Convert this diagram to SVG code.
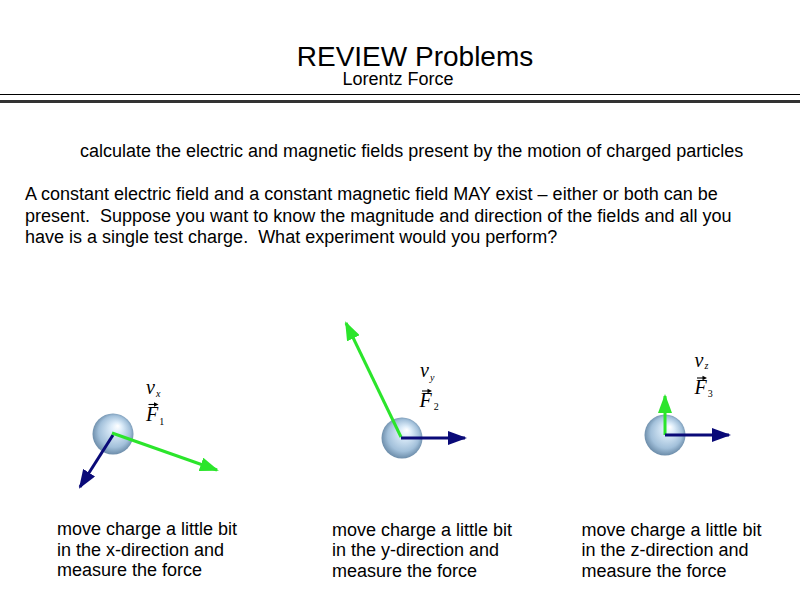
<svg xmlns="http://www.w3.org/2000/svg" width="800" height="600" viewBox="0 0 800 600">
<defs>
<style>
.sans{font-family:"Liberation Sans",Arial,sans-serif;fill:#000;white-space:pre}
.body{font-size:18px}
.title{font-size:28px}
.m{font-family:"Liberation Serif","Times New Roman",serif;font-style:italic;fill:#000}
.var{font-size:20px}
.sub{font-size:10px}
.num{font-style:normal}
.acc{stroke:#000;stroke-width:1.1;fill:none}
.acch{fill:#000}
.g{stroke:#2be52b;stroke-width:3;fill:none}
.b{stroke:#0a0a78;stroke-width:3;fill:none}
</style>
<radialGradient id="sph" cx="0.5" cy="0.5" r="0.55" fx="0.62" fy="0.3">
<stop offset="0" stop-color="#ffffff"/>
<stop offset="0.25" stop-color="#dcecf9"/>
<stop offset="0.7" stop-color="#a2c0da"/>
<stop offset="1" stop-color="#5d7e9c"/>
</radialGradient>
<marker id="ag" markerUnits="userSpaceOnUse" markerWidth="19" markerHeight="14" refX="17" refY="7" orient="auto">
<path d="M0,0 L19,7 L0,14 z" fill="#2be52b"/>
</marker>
<marker id="ab" markerUnits="userSpaceOnUse" markerWidth="19" markerHeight="14" refX="17" refY="7" orient="auto">
<path d="M0,0 L19,7 L0,14 z" fill="#0a0a78"/>
</marker>
</defs>
<rect width="800" height="600" fill="#fff"/>

<g id="header">
<text class="sans title" x="415" y="65.5" text-anchor="middle">REVIEW Problems</text>
<text class="sans body" x="398" y="84.5" text-anchor="middle">Lorentz Force</text>
<line x1="0" y1="94.5" x2="800" y2="94.5" stroke="#000" stroke-width="1.2"/>
<line x1="0" y1="101.5" x2="800" y2="101.5" stroke="#333" stroke-width="3.2"/>
</g>

<g id="intro">
<text class="sans body" x="80" y="157">calculate the electric and magnetic fields present by the motion of charged particles</text>
<text class="sans body" x="25" y="200" xml:space="preserve">A constant electric field and a constant magnetic field MAY exist – either or both can be</text>
<text class="sans body" x="25" y="221.5" xml:space="preserve">present.  Suppose you want to know the magnitude and direction of the fields and all you</text>
<text class="sans body" x="25" y="243" xml:space="preserve">have is a single test charge.  What experiment would you perform?</text>
</g>

<g id="charge1">
<circle cx="113" cy="434" r="20.5" fill="url(#sph)"/>
<text class="m var" x="146" y="393.5">v<tspan class="sub" dx="1" dy="3">x</tspan></text>
<text class="m var" x="146" y="420.5">F<tspan class="sub num" dx="1" dy="4">1</tspan></text>
<path class="acc" d="M148.5,404.5 H156"/>
<path class="acch" d="M154,402.2 L158.5,404.5 L154,406.8 z"/>
</g>

<g id="charge2">
<circle cx="402" cy="438" r="20.5" fill="url(#sph)"/>
<text class="m var" x="420" y="377">v<tspan class="sub" dx="1" dy="4">y</tspan></text>
<text class="m var" x="419.5" y="407">F<tspan class="sub num" dx="2" dy="3">2</tspan></text>
<path class="acc" d="M422,391 H429.5"/>
<path class="acch" d="M427.5,388.7 L432,391 L427.5,393.3 z"/>
</g>

<g id="charge3">
<circle cx="665" cy="435" r="20.5" fill="url(#sph)"/>
<text class="m var" x="694.5" y="367">v<tspan class="sub" dx="1" dy="2">z</tspan></text>
<text class="m var" x="694.5" y="394">F<tspan class="sub num" dx="1" dy="3">3</tspan></text>
<path class="acc" d="M697,378 H704.5"/>
<path class="acch" d="M702.5,375.7 L707,378 L702.5,380.3 z"/>
</g>

<g id="connectors">
<line class="b" x1="113" y1="435" x2="80" y2="487" marker-end="url(#ab)"/>
<line class="g" x1="112" y1="433" x2="217" y2="470" marker-end="url(#ag)"/>
<line class="g" x1="401" y1="437" x2="346" y2="323" marker-end="url(#ag)"/>
<line class="b" x1="401" y1="438" x2="465" y2="438" marker-end="url(#ab)"/>
<line class="g" x1="665" y1="435" x2="665" y2="396" marker-end="url(#ag)"/>
<line class="b" x1="665" y1="435" x2="729" y2="435" marker-end="url(#ab)"/>
</g>

<g id="captions">
<text class="sans body" x="57" y="535">move charge a little bit</text>
<text class="sans body" x="57" y="555.5">in the x-direction and</text>
<text class="sans body" x="57" y="576">measure the force</text>
<text class="sans body" x="332" y="535.5">move charge a little bit</text>
<text class="sans body" x="332" y="556">in the y-direction and</text>
<text class="sans body" x="332" y="576.5">measure the force</text>
<text class="sans body" x="581.5" y="535.5">move charge a little bit</text>
<text class="sans body" x="581.5" y="556">in the z-direction and</text>
<text class="sans body" x="581.5" y="576.5">measure the force</text>
</g>
</svg>
